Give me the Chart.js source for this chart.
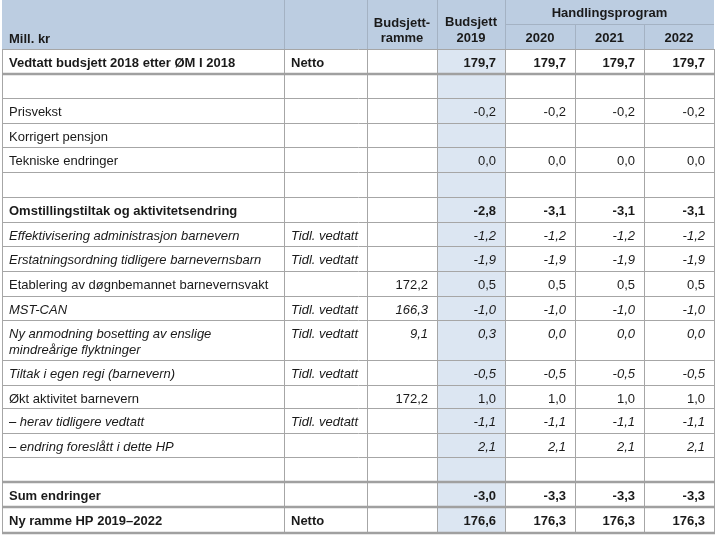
<!DOCTYPE html>
<html>
<head>
<meta charset="utf-8">
<script src="https://cdn.jsdelivr.net/npm/chart.js@4.4.1/dist/chart.umd.min.js"></script>
<style>
    body { margin: 0; background: #fff; }
    #wrap { width: 717px; height: 537px; }
</style>
</head>
<body>
<div id="wrap"><canvas id="budgetTable" width="717" height="537"></canvas></div>
<script>
// table content
const rowLabels = [
    'Vedtatt budsjett 2018 etter ØM I 2018',
    '',
    'Prisvekst',
    'Korrigert pensjon',
    'Tekniske endringer',
    '',
    'Omstillingstiltak og aktivitetsendring',
    'Effektivisering administrasjon barnevern',
    'Erstatningsordning tidligere barnevernsbarn',
    'Etablering av døgnbemannet barnevernsvakt',
    'MST-CAN',
    'Ny anmodning bosetting av enslige\nmindreårige flyktninger',
    'Tiltak i egen regi (barnevern)',
    'Økt aktivitet barnevern',
    '– herav tidligere vedtatt',
    '– endring foreslått i dette HP',
    '',
    'Sum endringer',
    'Ny ramme HP 2019–2022'
];
const rowNotes = ['Netto', '', '', '', '', '', '', 'Tidl. vedtatt', 'Tidl. vedtatt', '', 'Tidl. vedtatt',
    'Tidl. vedtatt', 'Tidl. vedtatt', '', 'Tidl. vedtatt', '', '', '', 'Netto'];
const budsjettramme = [null, null, null, null, null, null, null, null, null, 172.2, 166.3, 9.1,
    null, 172.2, null, null, null, null, null];
const budsjett2019 = [179.7, null, -0.2, null, 0.0, null, -2.8, -1.2, -1.9, 0.5, -1.0, 0.3,
    -0.5, 1.0, -1.1, 2.1, null, -3.0, 176.6];
const hp2020 = [179.7, null, -0.2, null, 0.0, null, -3.1, -1.2, -1.9, 0.5, -1.0, 0.0,
    -0.5, 1.0, -1.1, 2.1, null, -3.3, 176.3];
const hp2021 = [179.7, null, -0.2, null, 0.0, null, -3.1, -1.2, -1.9, 0.5, -1.0, 0.0,
    -0.5, 1.0, -1.1, 2.1, null, -3.3, 176.3];
const hp2022 = [179.7, null, -0.2, null, 0.0, null, -3.1, -1.2, -1.9, 0.5, -1.0, 0.0,
    -0.5, 1.0, -1.1, 2.1, null, -3.3, 176.3];
const headerGroup = 'Handlingsprogram';
const yearLabels = ['2020', '2021', '2022'];

// b = bold row, i = italic row, n = normal
const rowStyles = ['b', 'n', 'n', 'n', 'n', 'n', 'b', 'i', 'i', 'n', 'i', 'i', 'i', 'n', 'i', 'i', 'n', 'b', 'b'];

// layout (in table units, mapped through the chart scales)
const colEdges = [2, 284, 367, 437, 505, 575, 644, 714];
const rowEdges = [49, 74, 98, 123, 147, 172, 197, 222, 246, 271, 296, 320, 360, 385, 408, 433, 457, 482, 507, 533];
const thickAfter = [0, 16, 17, 18]; // rows with a heavy line below (row index)

const FONT = '"Liberation Sans", Arial, Helvetica, sans-serif';

function fmt(v) {
    if (v === null || v === undefined) return '';
    return v.toFixed(1).replace('.', ',');
}

const tablePlugin = {
    id: 'tablePlugin',
    beforeDatasetsDraw(chart) {
        const ctx = chart.ctx;
        const xs = chart.scales.x;
        const ys = chart.scales.y;
        const X = v => Math.round(xs.getPixelForValue(v));
        const Y = v => Math.round(ys.getPixelForValue(v));
        const left = X(colEdges[0]);
        const right = X(colEdges[colEdges.length - 1]);

        ctx.save();
        // header background
        ctx.fillStyle = '#bccde1';
        ctx.fillRect(left, Y(0), right - left, Y(rowEdges[0]) - Y(0));
        // shaded budget column
        ctx.fillStyle = '#dce6f2';
        ctx.fillRect(X(colEdges[3]), Y(rowEdges[0]), X(colEdges[4]) - X(colEdges[3]), Y(rowEdges[rowEdges.length - 1]) - Y(rowEdges[0]));

        // header grid
        ctx.strokeStyle = '#a4b2c3';
        ctx.lineWidth = 1;
        ctx.beginPath();
        [1, 2, 3, 4].forEach(c => {
            ctx.moveTo(X(colEdges[c]) + 0.5, Y(0));
            ctx.lineTo(X(colEdges[c]) + 0.5, Y(rowEdges[0]));
        });
        [5, 6].forEach(c => {
            ctx.moveTo(X(colEdges[c]) + 0.5, Y(24));
            ctx.lineTo(X(colEdges[c]) + 0.5, Y(rowEdges[0]));
        });
        ctx.moveTo(X(colEdges[4]), Y(24) + 0.5);
        ctx.lineTo(right, Y(24) + 0.5);
        ctx.stroke();

        // body grid
        ctx.strokeStyle = '#a6a6a6';
        ctx.beginPath();
        colEdges.forEach(c => {
            ctx.moveTo(X(c) + 0.5, Y(rowEdges[0]));
            ctx.lineTo(X(c) + 0.5, Y(rowEdges[rowEdges.length - 1]));
        });
        rowEdges.forEach((r, i) => {
            if (thickAfter.includes(i - 1)) return;
            ctx.moveTo(left, Y(r) + 0.5);
            ctx.lineTo(right + 1, Y(r) + 0.5);
        });
        ctx.stroke();
        ctx.strokeStyle = '#a0a0a0';
        ctx.lineWidth = 2.5;
        ctx.beginPath();
        thickAfter.forEach(i => {
            ctx.moveTo(left, Y(rowEdges[i + 1]));
            ctx.lineTo(right + 1, Y(rowEdges[i + 1]));
        });
        ctx.stroke();

        // header text
        ctx.fillStyle = '#1a1a1a';
        ctx.font = 'bold 13px ' + FONT;
        ctx.textBaseline = 'middle';
        ctx.textAlign = 'left';
        ctx.fillText('Mill. kr', X(colEdges[0]) + 7, Y(39));
        ctx.textAlign = 'center';
        const mid = (a, b) => (X(colEdges[a]) + X(colEdges[b])) / 2;
        ctx.fillText('Budsjett-', mid(2, 3), Y(23));
        ctx.fillText('ramme', mid(2, 3), Y(38));
        ctx.fillText('Budsjett', mid(3, 4), Y(22));
        ctx.fillText('2019', mid(3, 4), Y(38));
        ctx.fillText(headerGroup, mid(4, 7), Y(13));
        yearLabels.forEach((t, i) => ctx.fillText(t, mid(4 + i, 5 + i), Y(38)));

        // body
        const valueCols = [budsjettramme, budsjett2019, hp2020, hp2021, hp2022];
        rowLabels.forEach((label, i) => {
            const top = rowEdges[i];
            const style = rowStyles[i];
            const weight = style === 'b' ? 'bold ' : '';
            const slant = style === 'i' ? 'italic ' : '';
            const yLine = Y(top + 14);
            ctx.font = slant + weight + '13px ' + FONT;
            ctx.textAlign = 'left';
            label.split('\n').forEach((line, k) => {
                ctx.fillText(line, X(colEdges[0]) + 7, yLine + k * 16);
            });
            if (rowNotes[i]) {
                ctx.font = (rowNotes[i] === 'Netto' ? 'bold ' : 'italic ') + '13px ' + FONT;
                ctx.fillText(rowNotes[i], X(colEdges[1]) + 7, yLine);
            }
            ctx.font = slant + weight + '13px ' + FONT;
            ctx.textAlign = 'right';
            valueCols.forEach((arr, c) => {
                ctx.fillText(fmt(arr[i]), X(colEdges[c + 3]) - 9, yLine);
            });
        });
        ctx.restore();
    }
};

new Chart(document.getElementById('budgetTable'), {
    type: 'scatter',
    data: { datasets: [{ data: [], pointRadius: 0 }] },
    options: {
        responsive: false,
        animation: false,
        layout: { padding: 0 },
        scales: {
            x: { type: 'linear', min: 0, max: 717, display: false },
            y: { type: 'linear', min: 0, max: 537, reverse: true, display: false }
        },
        plugins: { legend: { display: false }, tooltip: { enabled: false } }
    },
    plugins: [tablePlugin]
});
</script>
</body>
</html>
